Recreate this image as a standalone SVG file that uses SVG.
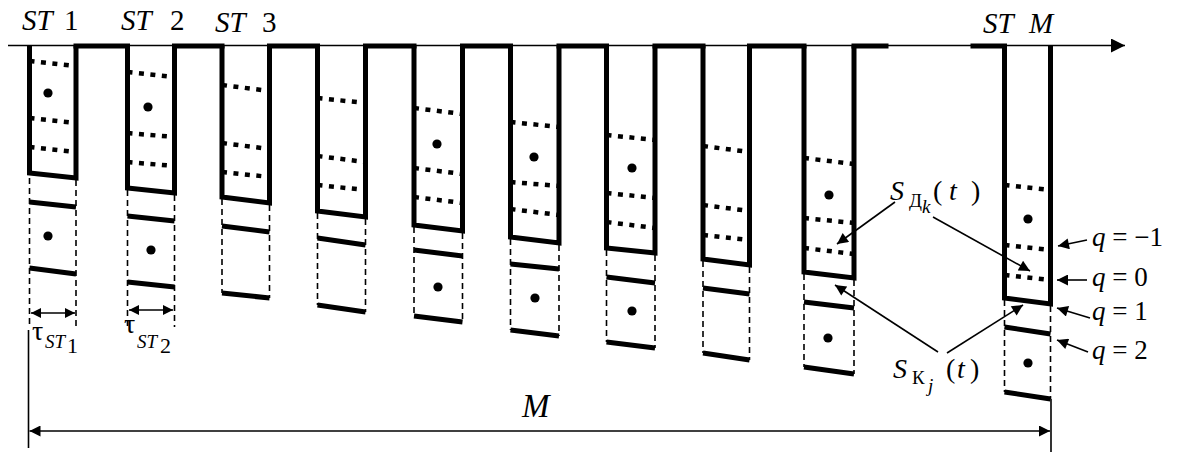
<svg xmlns="http://www.w3.org/2000/svg" width="1177" height="453" viewBox="0 0 1177 453">
  <style>
    .edge { fill: none; stroke: #000; stroke-width: 5; stroke-linejoin: miter; }
    .top { stroke: #000; stroke-width: 5; stroke-linecap: square; }
    .lvl { stroke: #000; stroke-width: 4.5; stroke-dasharray: 5 6.5; }
    .bar { stroke: #000; stroke-width: 5; }
    .side { stroke: #000; stroke-width: 1.6; stroke-dasharray: 6 4; }
    .thin { fill: none; stroke: #000; stroke-width: 1.6; }
    .dot { fill: #000; }
    .it { font-style: italic; }
  </style>
  <defs>
    <marker id="head" viewBox="0 0 10 10" refX="10" refY="5" markerUnits="userSpaceOnUse" markerWidth="15" markerHeight="11" orient="auto-start-reverse">
      <path d="M0,0 L10,5 L0,10 z" fill="#000"/>
    </marker>
    <marker id="headSmall" viewBox="0 0 10 10" refX="10" refY="5" markerUnits="userSpaceOnUse" markerWidth="13" markerHeight="10" orient="auto-start-reverse">
      <path d="M0,0 L10,5 L0,10 z" fill="#000"/>
    </marker>
    <marker id="axisHead" viewBox="0 0 10 10" refX="10" refY="5" markerUnits="userSpaceOnUse" markerWidth="15" markerHeight="14" orient="auto">
      <path d="M0,0 L10,5 L0,10 z" fill="#000"/>
    </marker>
  </defs>

  <!-- time axis -->
  <g id="axis">
    <line x1="8" y1="45.5" x2="1125" y2="45.5" class="thin" marker-end="url(#axisHead)"/>
  </g>

  <!-- thick segments joining the slots along the axis -->
  <g id="gaps">
    <line class="top" x1="76" y1="46" x2="127.5" y2="46"/>
    <line class="top" x1="174.5" y1="46" x2="222" y2="46"/>
    <line class="top" x1="269.5" y1="46" x2="317.5" y2="46"/>
    <line class="top" x1="365.5" y1="46" x2="414" y2="46"/>
    <line class="top" x1="462.5" y1="46" x2="510.5" y2="46"/>
    <line class="top" x1="559" y1="46" x2="606.5" y2="46"/>
    <line class="top" x1="655" y1="46" x2="703" y2="46"/>
    <line class="top" x1="749.5" y1="46" x2="804" y2="46"/>
    <line class="top" x1="854" y1="46" x2="886" y2="46"/>
    <line class="top" x1="973" y1="46" x2="1004.5" y2="46"/>
  </g>

  <!-- station 1 -->
  <g id="st1">
    <path class="edge" d="M29.5,46 V173 L76,178 V46"/>
    <line class="lvl" x1="29.5" y1="61" x2="76" y2="66"/>
    <line class="lvl" x1="29.5" y1="118" x2="76" y2="123"/>
    <line class="lvl" x1="29.5" y1="147" x2="76" y2="152"/>
    <circle class="dot" cx="48" cy="93" r="4.6"/>
    <line class="side" x1="29.5" y1="178" x2="29.5" y2="327"/>
    <line class="side" x1="76" y1="180" x2="76" y2="327"/>
    <line class="bar" x1="29.5" y1="202" x2="76" y2="207"/>
    <line class="bar" x1="29.5" y1="268" x2="76" y2="274"/>
    <circle class="dot" cx="48" cy="236" r="4.6"/>
  </g>

  <!-- station 2 -->
  <g id="st2">
    <path class="edge" d="M127.5,46 V188 L174.5,193 V46"/>
    <line class="lvl" x1="127.5" y1="72" x2="174.5" y2="77"/>
    <line class="lvl" x1="127.5" y1="133" x2="174.5" y2="137"/>
    <line class="lvl" x1="127.5" y1="162" x2="174.5" y2="166"/>
    <circle class="dot" cx="148" cy="107" r="4.6"/>
    <line class="side" x1="127.5" y1="190" x2="127.5" y2="327"/>
    <line class="side" x1="174.5" y1="195" x2="174.5" y2="327"/>
    <line class="bar" x1="127.5" y1="216" x2="174.5" y2="221"/>
    <line class="bar" x1="127.5" y1="282" x2="174.5" y2="287"/>
    <circle class="dot" cx="151" cy="250" r="4.6"/>
  </g>

  <!-- station 3 -->
  <g id="st3">
    <path class="edge" d="M222,46 V197 L269.5,203 V46"/>
    <line class="lvl" x1="222" y1="85" x2="269.5" y2="91"/>
    <line class="lvl" x1="222" y1="143" x2="269.5" y2="149"/>
    <line class="lvl" x1="222" y1="172" x2="269.5" y2="177"/>
    <line class="side" x1="222" y1="199" x2="222" y2="293"/>
    <line class="side" x1="269.5" y1="205" x2="269.5" y2="298"/>
    <line class="bar" x1="222" y1="226" x2="269.5" y2="232"/>
    <line class="bar" x1="222" y1="293" x2="269.5" y2="298"/>
  </g>

  <!-- station 4 -->
  <g id="st4">
    <path class="edge" d="M317.5,46 V211 L365.5,217 V46"/>
    <line class="lvl" x1="317.5" y1="98" x2="365.5" y2="103"/>
    <line class="lvl" x1="317.5" y1="156" x2="365.5" y2="162"/>
    <line class="lvl" x1="317.5" y1="185" x2="365.5" y2="190"/>
    <line class="side" x1="317.5" y1="213" x2="317.5" y2="305"/>
    <line class="side" x1="365.5" y1="219" x2="365.5" y2="312"/>
    <line class="bar" x1="317.5" y1="238" x2="365.5" y2="245"/>
    <line class="bar" x1="317.5" y1="305" x2="365.5" y2="312"/>
  </g>

  <!-- station 5 -->
  <g id="st5">
    <path class="edge" d="M414,46 V225 L462.5,231 V46"/>
    <line class="lvl" x1="414" y1="108" x2="462.5" y2="114"/>
    <line class="lvl" x1="414" y1="168" x2="462.5" y2="174"/>
    <line class="lvl" x1="414" y1="197" x2="462.5" y2="203"/>
    <circle class="dot" cx="437" cy="144" r="4.6"/>
    <line class="side" x1="414" y1="227" x2="414" y2="316"/>
    <line class="side" x1="462.5" y1="233" x2="462.5" y2="322"/>
    <line class="bar" x1="414" y1="250" x2="462.5" y2="256"/>
    <line class="bar" x1="414" y1="316" x2="462.5" y2="322"/>
    <circle class="dot" cx="438" cy="287" r="4.6"/>
  </g>

  <!-- station 6 -->
  <g id="st6">
    <path class="edge" d="M510.5,46 V237 L559,243 V46"/>
    <line class="lvl" x1="510.5" y1="122" x2="559" y2="127"/>
    <line class="lvl" x1="510.5" y1="182" x2="559" y2="186"/>
    <line class="lvl" x1="510.5" y1="209" x2="559" y2="215"/>
    <circle class="dot" cx="534" cy="157" r="4.6"/>
    <line class="side" x1="510.5" y1="239" x2="510.5" y2="330"/>
    <line class="side" x1="559" y1="245" x2="559" y2="336"/>
    <line class="bar" x1="510.5" y1="264" x2="559" y2="269"/>
    <line class="bar" x1="510.5" y1="330" x2="559" y2="336"/>
    <circle class="dot" cx="535" cy="298" r="4.6"/>
  </g>

  <!-- station 7 -->
  <g id="st7">
    <path class="edge" d="M606.5,46 V248 L655,253 V46"/>
    <line class="lvl" x1="606.5" y1="135" x2="655" y2="140"/>
    <line class="lvl" x1="606.5" y1="193" x2="655" y2="198"/>
    <line class="lvl" x1="606.5" y1="222" x2="655" y2="228"/>
    <circle class="dot" cx="632" cy="168" r="4.6"/>
    <line class="side" x1="606.5" y1="250" x2="606.5" y2="342"/>
    <line class="side" x1="655" y1="255" x2="655" y2="348"/>
    <line class="bar" x1="606.5" y1="277" x2="655" y2="283"/>
    <line class="bar" x1="606.5" y1="342" x2="655" y2="348"/>
    <circle class="dot" cx="632" cy="311" r="4.6"/>
  </g>

  <!-- station 8 -->
  <g id="st8">
    <path class="edge" d="M703,46 V259 L749.5,265 V46"/>
    <line class="lvl" x1="703" y1="146" x2="749.5" y2="152"/>
    <line class="lvl" x1="703" y1="205" x2="749.5" y2="211"/>
    <line class="lvl" x1="703" y1="235" x2="749.5" y2="240"/>
    <line class="side" x1="703" y1="261" x2="703" y2="353"/>
    <line class="side" x1="749.5" y1="267" x2="749.5" y2="360"/>
    <line class="bar" x1="703" y1="288" x2="749.5" y2="294"/>
    <line class="bar" x1="703" y1="353" x2="749.5" y2="360"/>
  </g>

  <!-- station 9 -->
  <g id="st9">
    <path class="edge" d="M804,46 V272 L854,278 V46"/>
    <line class="lvl" x1="804" y1="158" x2="854" y2="164"/>
    <line class="lvl" x1="804" y1="218" x2="854" y2="223"/>
    <line class="lvl" x1="804" y1="248" x2="854" y2="254"/>
    <circle class="dot" cx="829" cy="195" r="4.6"/>
    <line class="side" x1="804" y1="274" x2="804" y2="367"/>
    <line class="side" x1="854" y1="280" x2="854" y2="374"/>
    <line class="bar" x1="804" y1="302" x2="854" y2="308"/>
    <line class="bar" x1="804" y1="367" x2="854" y2="374"/>
    <circle class="dot" cx="828" cy="338" r="4.6"/>
  </g>

  <!-- station M -->
  <g id="stM">
    <path class="edge" d="M1004.5,46 V298 L1050.5,304 V46"/>
    <line class="lvl" x1="1004.5" y1="185" x2="1050.5" y2="190"/>
    <line class="lvl" x1="1004.5" y1="245" x2="1050.5" y2="250"/>
    <line class="lvl" x1="1004.5" y1="275" x2="1050.5" y2="280"/>
    <circle class="dot" cx="1028" cy="219" r="4.6"/>
    <line class="side" x1="1004.5" y1="300" x2="1004.5" y2="392"/>
    <line class="side" x1="1050.5" y1="306" x2="1050.5" y2="399"/>
    <line class="bar" x1="1004.5" y1="327" x2="1050.5" y2="334"/>
    <line class="bar" x1="1004.5" y1="392" x2="1050.5" y2="399"/>
    <circle class="dot" cx="1028" cy="363" r="4.6"/>
  </g>

  <!-- connectors: durations, span, pointers -->
  <g id="connectors">
    <line class="thin" x1="31" y1="313" x2="75" y2="313" marker-start="url(#headSmall)" marker-end="url(#headSmall)"/>
    <line class="thin" x1="129" y1="310" x2="173" y2="310" marker-start="url(#headSmall)" marker-end="url(#headSmall)"/>
    <line class="thin" x1="28.5" y1="330" x2="28.5" y2="448"/>
    <line class="thin" x1="1051" y1="399" x2="1051" y2="452"/>
    <line class="thin" x1="29.5" y1="431" x2="1050" y2="431" marker-start="url(#head)" marker-end="url(#head)"/>
    <line class="thin" x1="895" y1="202" x2="837" y2="244" marker-end="url(#head)"/>
    <line class="thin" x1="933" y1="217" x2="1030" y2="271" marker-end="url(#head)"/>
    <line class="thin" x1="938" y1="352" x2="835" y2="285" marker-end="url(#head)"/>
    <line class="thin" x1="947" y1="353" x2="1023" y2="305" marker-end="url(#head)"/>
    <line class="thin" x1="1087" y1="240" x2="1058" y2="246" marker-end="url(#head)"/>
    <line class="thin" x1="1087" y1="280" x2="1057" y2="280" marker-end="url(#head)"/>
    <line class="thin" x1="1090" y1="318" x2="1057" y2="308" marker-end="url(#head)"/>
    <line class="thin" x1="1088" y1="352" x2="1057" y2="340" marker-end="url(#head)"/>
  </g>

  <!-- labels -->
  <g id="labels" font-family="'Liberation Serif', 'DejaVu Serif', serif" font-size="29" fill="#000">
    <text x="22" y="30"><tspan class="it">ST</tspan><tspan x="64">1</tspan></text>
    <text x="121" y="30"><tspan class="it">ST</tspan><tspan x="170">2</tspan></text>
    <text x="215" y="32"><tspan class="it">ST</tspan><tspan x="262">3</tspan></text>
    <text x="983" y="33"><tspan class="it">ST</tspan><tspan class="it" x="1029">M</tspan></text>

    <text x="32" y="340" font-size="28">τ</text>
    <text x="45" y="348" font-size="19" class="it">ST</text>
    <text x="67" y="353" font-size="22">1</text>
    <text x="124" y="333" font-size="28">τ</text>
    <text x="137" y="348" font-size="19" class="it">ST</text>
    <text x="160" y="353" font-size="22">2</text>

    <text x="522" y="417" font-size="33" class="it">M</text>

    <text x="890" y="200" font-size="28" class="it">S</text>
    <text x="909" y="207" font-size="19">Д</text>
    <text x="922" y="213" font-size="19" class="it">k</text>
    <text x="933" y="200" font-size="28">(</text>
    <text x="949" y="200" font-size="28" class="it">t</text>
    <text x="971" y="200" font-size="28">)</text>

    <text x="893" y="378" font-size="28" class="it">S</text>
    <text x="912" y="384" font-size="19">К</text>
    <text x="928" y="392" font-size="19" class="it">j</text>
    <text x="946" y="378" font-size="28">(</text>
    <text x="957" y="378" font-size="28" class="it">t</text>
    <text x="970" y="378" font-size="28">)</text>

    <text x="1092" y="246" font-size="27"><tspan class="it">q</tspan> = −1</text>
    <text x="1092" y="286" font-size="27"><tspan class="it">q</tspan> = 0</text>
    <text x="1092" y="320" font-size="27"><tspan class="it">q</tspan> = 1</text>
    <text x="1092" y="359" font-size="27"><tspan class="it">q</tspan> = 2</text>
  </g>
</svg>
